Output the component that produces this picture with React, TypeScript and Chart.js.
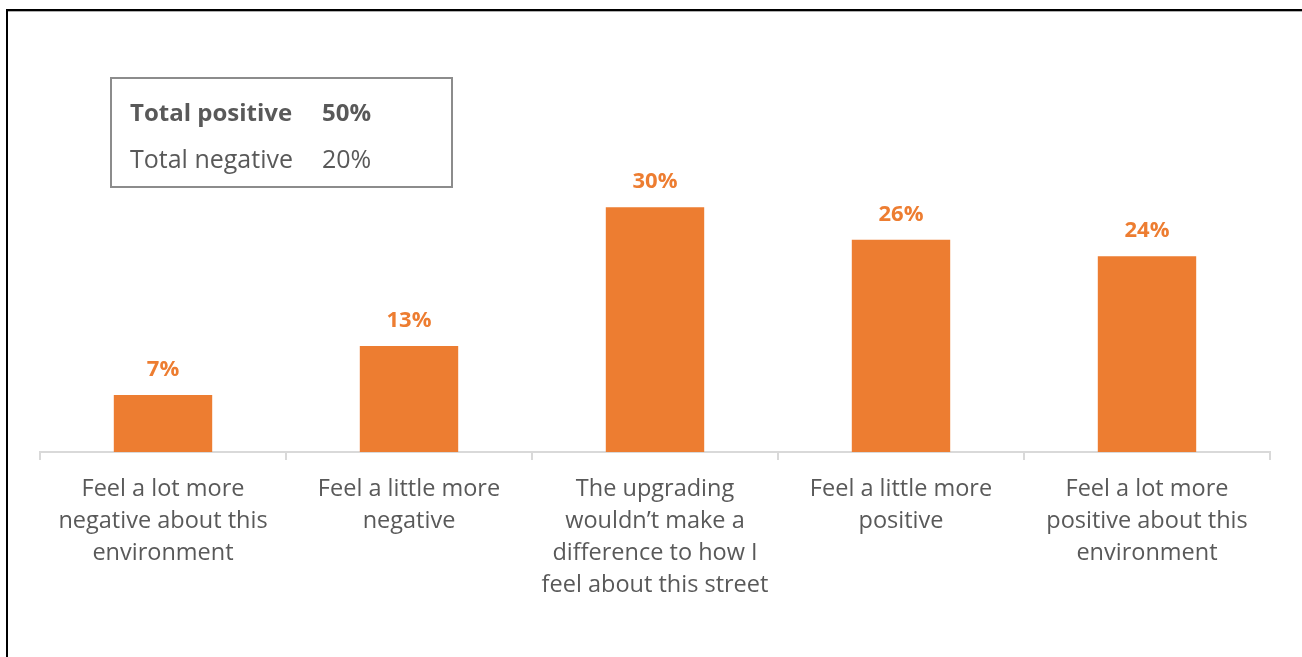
import React, { useEffect, useRef } from "react";
import { Chart, registerables } from "chart.js";

Chart.register(...registerables);

const categories: string[][] = [
  ["Feel a lot more", "negative about this", "environment"],
  ["Feel a little more", "negative"],
  ["The upgrading", "wouldn\u2019t make a", "difference to how I", "feel about this street"],
  ["Feel a little more", "positive"],
  ["Feel a lot more", "positive about this", "environment"],
];
const values: number[] = [7, 13, 30, 26, 24];
const summaryLabels: string[] = ["Total positive", "Total negative"];
const summaryValues: string[] = ["50%", "20%"];

const ORANGE = "#ED7D31";
const GREY_TEXT = "#595959";
const FONT = "'Open Sans', sans-serif";

const decorPlugin = {
  id: "decor",
  beforeDraw(chart: any) {
    const ctx = chart.ctx;
    ctx.save();
    ctx.fillStyle = "#ffffff";
    ctx.fillRect(0, 0, chart.width, chart.height);
    // page frame (left and top)
    ctx.fillStyle = "#000000";
    ctx.fillRect(6, 9, chart.width - 6, 2);
    ctx.fillRect(6, 9, 2, chart.height - 9);
    ctx.fillStyle = "#b0b0b0";
    ctx.fillRect(8, 11, chart.width - 8, 1);
    ctx.restore();
  },
  afterDraw(chart: any) {
    const ctx = chart.ctx;
    ctx.save();
    // summary box
    ctx.strokeStyle = "#8c8c8c";
    ctx.lineWidth = 2;
    ctx.strokeRect(111, 78, 341, 109);
    ctx.fillStyle = GREY_TEXT;
    ctx.textBaseline = "middle";
    ctx.textAlign = "left";
    const ys = [114, 161];
    summaryLabels.forEach((lab, i) => {
      ctx.font = (i === 0 ? "bold 24px " : "25px ") + FONT;
      ctx.fillText(lab, 130, ys[i]);
      ctx.fillText(summaryValues[i], 322, ys[i]);
    });
    ctx.restore();
  },
  afterDatasetsDraw(chart: any) {
    const ctx = chart.ctx;
    const meta = chart.getDatasetMeta(0);
    ctx.save();
    ctx.fillStyle = ORANGE;
    ctx.font = "bold 22px " + FONT;
    ctx.textAlign = "center";
    ctx.textBaseline = "middle";
    meta.data.forEach((bar: any, i: number) => {
      ctx.fillText(values[i] + "%", bar.x, bar.y - 25);
    });
    ctx.restore();
  },
};

export default function App() {
  const ref = useRef<HTMLCanvasElement>(null);
  useEffect(() => {
    if (!ref.current) return;
    const chart = new Chart(ref.current, {
      type: "bar",
      data: {
        labels: categories,
        datasets: [
          {
            data: values,
            backgroundColor: ORANGE,
            borderWidth: 0,
            categoryPercentage: 1,
            barPercentage: 0.4,
          },
        ],
      },
      options: {
        animation: false,
        responsive: false,
        devicePixelRatio: 1,
        layout: { padding: { left: 40, right: 32, top: 44, bottom: 0 } },
        plugins: {
          legend: { display: false },
          tooltip: { enabled: false },
        },
        scales: {
          x: {
            grid: {
              display: true,
              drawOnChartArea: false,
              drawTicks: true,
              tickLength: 8,
              color: "#d9d9d9",
              lineWidth: 2,
              offset: true,
            },
            border: { display: true, color: "#d9d9d9", width: 2 },
            ticks: {
              color: GREY_TEXT,
              font: { family: FONT, size: 23.5, lineHeight: "32px" as any },
              padding: 13,
              maxRotation: 0,
              autoSkip: false,
            },
            afterFit: (scale: any) => {
              scale.height = 205;
            },
          },
          y: {
            display: false,
            min: 0,
            max: 50,
          },
        },
      },
      plugins: [decorPlugin],
    });
    return () => chart.destroy();
  }, []);
  return (
    <canvas
      ref={ref}
      width={1302}
      height={657}
      style={{ position: "fixed", left: 0, top: 0, width: 1302, height: 657 }}
    />
  );
}
